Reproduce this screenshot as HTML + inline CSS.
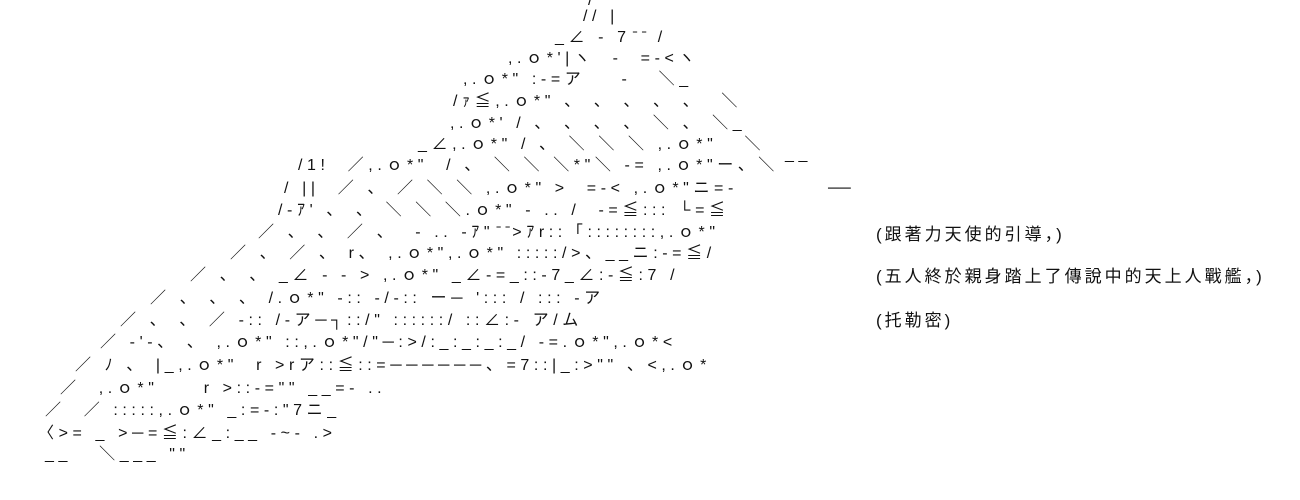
<!DOCTYPE html>
<html><head><meta charset="utf-8"><style>
html,body{margin:0;padding:0;background:#fff;}
#c{position:relative;width:1300px;height:500px;overflow:hidden;font-family:"Liberation Sans","Noto Sans CJK JP",sans-serif;font-size:16px;color:#111;}
#c span{position:absolute;white-space:pre;line-height:18px;letter-spacing:4.6px;}
#c span.t{font-size:17px;letter-spacing:3px;}
</style></head><body><div id="c">
<span style="left:588px;top:-8px">/ ￣</span>
<span style="left:583px;top:8px">// |</span>
<span style="left:555px;top:29px">_∠ - 7 ̄ ̄ /</span>
<span style="left:508px;top:50px">,.ｏ*'|ヽ  -  =-<ヽ</span>
<span style="left:463px;top:71px">,.ｏ*" :-=ア    -   ＼_</span>
<span style="left:453px;top:93px">/ｧ≦,.ｏ*" 、 、 、 、 、  ＼</span>
<span style="left:450px;top:115px">,.ｏ*' / 、 、 、 、 ＼ 、 ＼_</span>
<span style="left:418px;top:136px">_∠,.ｏ*" / 、 ＼ ＼ ＼ ,.ｏ*"   ＼</span>
<span style="left:298px;top:157px">/1!  ／,.ｏ*"  / 、 ＼ ＼ ＼*"＼ -= ,.ｏ*"ー、＼</span>
<span style="left:785px;top:146px">__</span>
<span style="left:284px;top:180px">/ ||  ／ 、 ／ ＼ ＼ ,.ｏ*" >  =-< ,.ｏ*"ニ=-</span>
<span style="left:828px;top:180px;font-weight:bold;letter-spacing:0">──</span>
<span style="left:278px;top:202px">/-ｱ' 、 、 ＼ ＼ ＼.ｏ*" - .. /  -=≦::: └=≦</span>
<span style="left:258px;top:224px">／ 、 、 ／ 、  - .. -ｱ" ̄ ̄>ｱr::「::::::::,.ｏ*"</span>
<span style="left:230px;top:245px">／ 、 ／ 、 r、 ,.ｏ*",.ｏ*" :::::/>、__ニ:-=≦/</span>
<span style="left:190px;top:267px">／ 、 、 _∠ - - > ,.ｏ*" _∠-=_::-7_∠:-≦:7 /</span>
<span style="left:150px;top:290px">／ 、 、 、 /.ｏ*" -:: -/-:: ー─ '::: / ::: -ア</span>
<span style="left:120px;top:312px">／ 、 、 ／ -:: /-ア─┐::/" ::::::/ ::∠:- ア/ム</span>
<span style="left:100px;top:334px">／ -'-、 、 ,.ｏ*" ::,.ｏ*"/"─:>/:_:_:_:_/ -=.ｏ*",.ｏ*<</span>
<span style="left:75px;top:357px">／ ﾉ 、 |_,.ｏ*"  r >rア::≦::=──────、=7::|_:>"" 、<,.ｏ*</span>
<span style="left:60px;top:380px">／  ,.ｏ*"     r >::-="" __=- ..</span>
<span style="left:45px;top:402px">／  ／ :::::,.ｏ*" _:=-:"7ニ_</span>
<span style="left:38px;top:425px">〈>= _ >─=≦:∠_:__ -~- .></span>
<span style="left:45px;top:446px">__   ＼___ ""</span>
<span class="t" style="left:876px;top:226px">(跟著力天使的引導，)</span>
<span class="t" style="left:876px;top:268px">(五人終於親身踏上了傳說中的天上人戰艦，)</span>
<span class="t" style="left:876px;top:312px">(托勒密)</span>
</div></body></html>
